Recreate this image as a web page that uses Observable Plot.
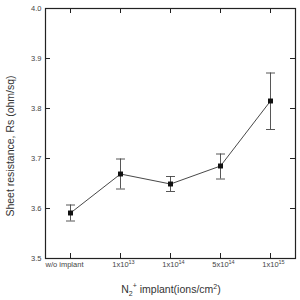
<!DOCTYPE html>
<html>
<head>
<meta charset="utf-8">
<script src="https://cdn.jsdelivr.net/npm/d3@7"></script>
<script src="https://cdn.jsdelivr.net/npm/@observablehq/plot@0.6"></script>
<style>
  html, body { margin: 0; padding: 0; background: #fff; }
  #chart { width: 300px; height: 300px; }
</style>
</head>
<body>
<div id="chart"></div>
<script>
// Data
const categories = ["w/o implant", "1x10^13", "1x10^14", "5x10^14", "1x10^15"];
const tickBase = ["w/o implant", "1x10", "1x10", "5x10", "1x10"];
const tickExp = ["", "13", "14", "14", "15"];
const values = [3.591, 3.669, 3.649, 3.685, 3.815];
const errLow = [3.575, 3.639, 3.634, 3.659, 3.758];
const errHigh = [3.607, 3.699, 3.664, 3.709, 3.871];
const yTicks = [3.5, 3.6, 3.7, 3.8, 3.9, 4.0];

const data = categories.map((c, i) => ({cat: c, v: values[i], lo: errLow[i], hi: errHigh[i]}));

const font = "'Liberation Sans', Arial, Helvetica, sans-serif";

// horizontal cap symbol for error bars
const capSymbol = {
  draw(context, size) {
    const w = 4.5;
    context.moveTo(-w, 0);
    context.lineTo(w, 0);
  }
};

const chart = Plot.plot({
  width: 300,
  height: 300,
  marginLeft: 45,
  marginRight: 5,
  marginTop: 8,
  marginBottom: 42,
  style: {fontFamily: font, background: "#fff", overflow: "visible"},
  x: {type: "point", domain: categories, padding: 0.5, label: null},
  y: {domain: [3.5, 4.0], label: null},
  marks: [
    Plot.axisY(yTicks, {anchor: "left", tickSize: 0, tickPadding: 4, tickFormat: d => d.toFixed(1), fontSize: 7.5, fill: "#444", label: null}),
    Plot.axisX(categories, {anchor: "bottom", tickSize: 0, tickPadding: 3, tickFormat: d => d, fontSize: 7.5, fill: "#444", label: null}),
    // inward ticks
    Plot.ruleY(yTicks, {y: d => d, insetRight: 245, stroke: "#222", strokeWidth: 1}),
    Plot.ruleY(yTicks, {y: d => d, insetLeft: 245, stroke: "#222", strokeWidth: 1}),
    Plot.ruleX(categories, {x: d => d, insetTop: 245, stroke: "#222", strokeWidth: 1}),
    Plot.ruleX(categories, {x: d => d, insetBottom: 245, stroke: "#222", strokeWidth: 1}),
    // error bars
    Plot.ruleX(data, {x: "cat", y1: "lo", y2: "hi", stroke: "#444", strokeWidth: 0.9}),
    Plot.dot(data, {x: "cat", y: "hi", symbol: capSymbol, r: 3, stroke: "#444", fill: "none", strokeWidth: 0.9}),
    Plot.dot(data, {x: "cat", y: "lo", symbol: capSymbol, r: 3, stroke: "#444", fill: "none", strokeWidth: 0.9}),
    // line
    Plot.line(data, {x: "cat", y: "v", stroke: "#333", strokeWidth: 0.9}),
    Plot.dot(data, {x: "cat", y: "v", symbol: "square", r: 2.8, fill: "#111", stroke: null}),
    Plot.frame({stroke: "#222", strokeWidth: 1.2})
  ]
});

document.getElementById("chart").appendChild(chart);

const svg = d3.select(chart);

// superscript tick labels
svg.selectAll('g[aria-label="x-axis tick label"] text').each(function() {
  const t = d3.select(this);
  const label = t.text();
  const i = categories.indexOf(label);
  if (i < 0) return;
  t.text(null);
  t.append("tspan").text(tickBase[i]);
  if (tickExp[i]) {
    t.append("tspan").attr("dy", "-3").attr("font-size", 5.5).text(tickExp[i]);
  }
  if (tickExp[i]) t.attr("transform", (t.attr("transform") || "") + " translate(3,0)");
  else t.attr("transform", (t.attr("transform") || "") + " translate(-6,0)");
});

// y label
svg.append("text")
  .attr("transform", "translate(14,146) rotate(-90)")
  .attr("text-anchor", "middle")
  .attr("font-family", font)
  .attr("font-size", 10.5)
  .attr("fill", "#333")
  .text("Sheet resistance, Rs (ohm/sq)");

// x label
const xl = svg.append("text")
  .attr("x", 171)
  .attr("y", 293)
  .attr("text-anchor", "middle")
  .attr("font-family", font)
  .attr("font-size", 10.5)
  .attr("fill", "#333");
xl.append("tspan").text("N");
xl.append("tspan").attr("dy", 3).attr("font-size", 7).text("2");
xl.append("tspan").attr("dy", -8).attr("font-size", 7).text("+");
xl.append("tspan").attr("dy", 5).text(" implant(ions/cm");
xl.append("tspan").attr("dy", -4).attr("font-size", 7).text("2");
xl.append("tspan").attr("dy", 4).text(")");
</script>
</body>
</html>
